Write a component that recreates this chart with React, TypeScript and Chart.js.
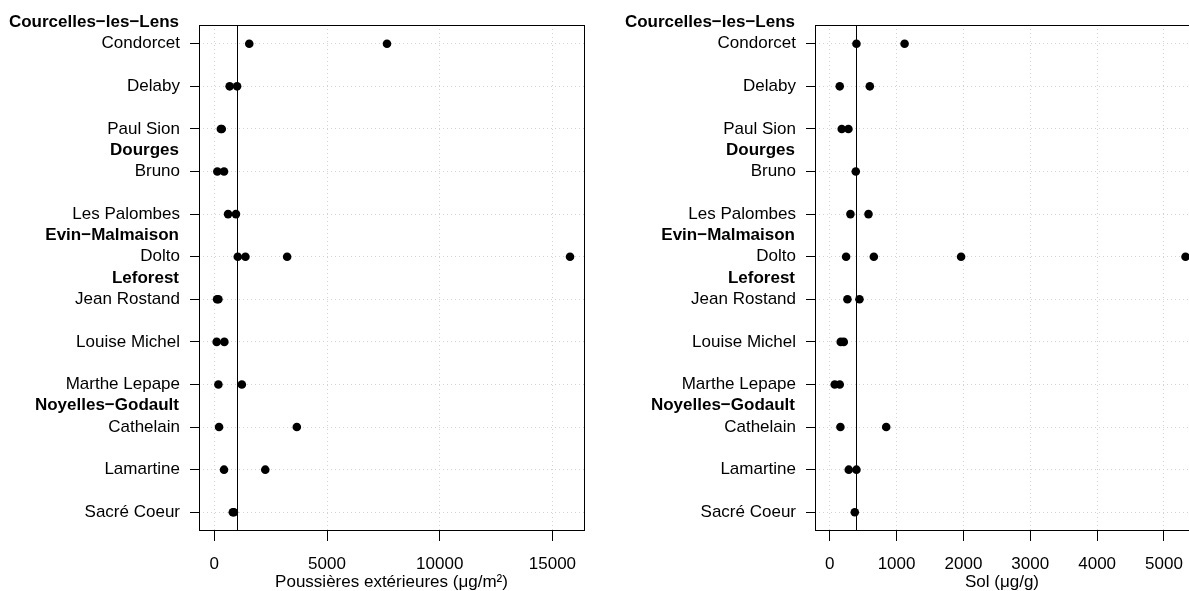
import React, { useEffect, useRef } from "react";
import { Chart, registerables } from "chart.js";

Chart.register(...registerables);

const sites = [
  "Condorcet",
  "Delaby",
  "Paul Sion",
  "Bruno",
  "Les Palombes",
  "Dolto",
  "Jean Rostand",
  "Louise Michel",
  "Marthe Lepape",
  "Cathelain",
  "Lamartine",
  "Sacré Coeur",
];

const groupNames = ["Courcelles−les−Lens", "Dourges", "Evin−Malmaison", "Leforest", "Noyelles−Godault"];
const groupFirstSite = [0, 3, 5, 6, 9];

const dustValues = [
  [1550, 7660],
  [680, 1010],
  [290, 330],
  [133, 430],
  [610, 960],
  [1040, 1380, 3230, 15780],
  [120, 180],
  [105, 445],
  [180, 1220],
  [210, 3660],
  [430, 2260],
  [820, 870],
];

const soilValues = [
  [400, 1120],
  [150, 600],
  [180, 280],
  [390],
  [310, 580],
  [245, 660, 1965, 5322],
  [265, 445],
  [165, 210],
  [75, 150],
  [160, 845],
  [285, 400],
  [375],
];

const dustTicks = [0, 5000, 10000, 15000];
const soilTicks = [0, 1000, 2000, 3000, 4000, 5000];
const dustReference = 1000;
const soilReference = 400;
const dustRange = [-680, 16400];
const soilRange = [-220, 5374];
const dustTitle = "Poussières extérieures (μg/m²)";
const soilTitle = "Sol (μg/g)";

const FONT = "'Liberation Sans', Arial, Helvetica, sans-serif";

function makeConfig(
  values: number[][],
  ticks: number[],
  reference: number,
  range: number[],
  title: string,
  yAxisWidth: number,
  rightPad: number
): any {
  const points = values.flatMap((vals, i) => vals.map((v) => ({ x: v, y: i })));
  const overlay = {
    id: "overlay",
    afterDatasetsDraw(chart: any) {
      const { ctx, chartArea, scales } = chart;
      const x = Math.round(scales.x.getPixelForValue(reference)) + 0.5;
      ctx.save();
      ctx.strokeStyle = "#000";
      ctx.lineWidth = 1;
      ctx.setLineDash([]);
      ctx.beginPath();
      ctx.moveTo(x, chartArea.top);
      ctx.lineTo(x, chartArea.bottom);
      ctx.stroke();
      ctx.restore();
    },
    afterDraw(chart: any) {
      const { ctx, chartArea, scales } = chart;
      ctx.save();
      ctx.strokeStyle = "#000";
      ctx.lineWidth = 1;
      ctx.setLineDash([]);
      ctx.strokeRect(
        chartArea.left + 0.5,
        chartArea.top + 0.5,
        chartArea.right - chartArea.left,
        chartArea.bottom - chartArea.top - 1
      );
      ctx.font = `bold 17px ${FONT}`;
      ctx.fillStyle = "#000";
      ctx.textAlign = "right";
      ctx.textBaseline = "middle";
      groupNames.forEach((name, i) => {
        ctx.fillText(name, chartArea.left - 20, scales.y.getPixelForValue(groupFirstSite[i] - 0.5));
      });
      ctx.restore();
    },
  };
  return {
    type: "scatter",
    data: {
      datasets: [
        {
          data: points,
          pointRadius: 4.3,
          pointHoverRadius: 4.3,
          backgroundColor: "#000",
          borderColor: "#000",
          borderWidth: 0,
        },
      ],
    },
    plugins: [overlay],
    options: {
      animation: false,
      responsive: false,
      events: [],
      layout: { autoPadding: false, padding: { top: 25, right: rightPad, left: 0, bottom: 0 } },
      plugins: { legend: { display: false }, tooltip: { enabled: false } },
      scales: {
        x: {
          type: "linear",
          position: "bottom",
          min: range[0],
          max: range[1],
          afterBuildTicks: (s: any) => {
            s.ticks = ticks.map((v) => ({ value: v }));
          },
          afterFit: (s: any) => {
            s.height = 60;
            s.paddingLeft = 0;
            s.paddingRight = 0;
          },
          ticks: {
            color: "#000",
            font: { family: FONT, size: 17 },
            padding: 13,
            maxRotation: 0,
            autoSkip: false,
            callback: (v: any) => String(v),
          },
          grid: {
            color: "#d3d3d3",
            lineWidth: 1,
            tickLength: 10,
            tickColor: "#000",
            drawTicks: true,
          },
          border: { display: false, dash: [1, 3] },
          title: {
            display: true,
            text: title,
            color: "#000",
            font: { family: FONT, size: 17 },
            padding: { top: 0, bottom: -2 },
          },
        },
        y: {
          type: "linear",
          reverse: true,
          min: -0.44,
          max: sites.length - 0.56,
          afterBuildTicks: (s: any) => {
            s.ticks = sites.map((_, i) => ({ value: i }));
          },
          afterFit: (s: any) => {
            s.width = yAxisWidth;
          },
          ticks: {
            color: "#000",
            font: { family: FONT, size: 17 },
            padding: 10,
            autoSkip: false,
            callback: (v: any) => sites[Math.round(Number(v))],
          },
          grid: {
            color: "#d3d3d3",
            lineWidth: 1,
            tickLength: 9,
            tickColor: "#000",
            drawTicks: true,
          },
          border: { display: false, dash: [1, 3] },
        },
      },
    },
  };
}

function Panel(props: {
  left: number;
  width: number;
  values: number[][];
  ticks: number[];
  reference: number;
  range: number[];
  title: string;
  yAxisWidth: number;
  rightPad: number;
}) {
  const ref = useRef<HTMLCanvasElement | null>(null);
  useEffect(() => {
    if (!ref.current) return;
    const chart = new Chart(
      ref.current,
      makeConfig(props.values, props.ticks, props.reference, props.range, props.title, props.yAxisWidth, props.rightPad)
    );
    return () => chart.destroy();
  }, []);
  return (
    <canvas
      ref={ref}
      width={props.width}
      height={591}
      style={{ position: "absolute", left: props.left, top: 0, width: props.width, height: 591 }}
    />
  );
}

export default function App() {
  return (
    <div style={{ position: "absolute", left: 0, top: 0, width: 1189, height: 591, background: "#fff", overflow: "hidden" }}>
      <Panel
        left={0}
        width={600}
        values={dustValues}
        ticks={dustTicks}
        reference={dustReference}
        range={dustRange}
        title={dustTitle}
        yAxisWidth={199}
        rightPad={16}
      />
      <Panel
        left={600}
        width={589}
        values={soilValues}
        ticks={soilTicks}
        reference={soilReference}
        range={soilRange}
        title={soilTitle}
        yAxisWidth={215}
        rightPad={0}
      />
    </div>
  );
}
